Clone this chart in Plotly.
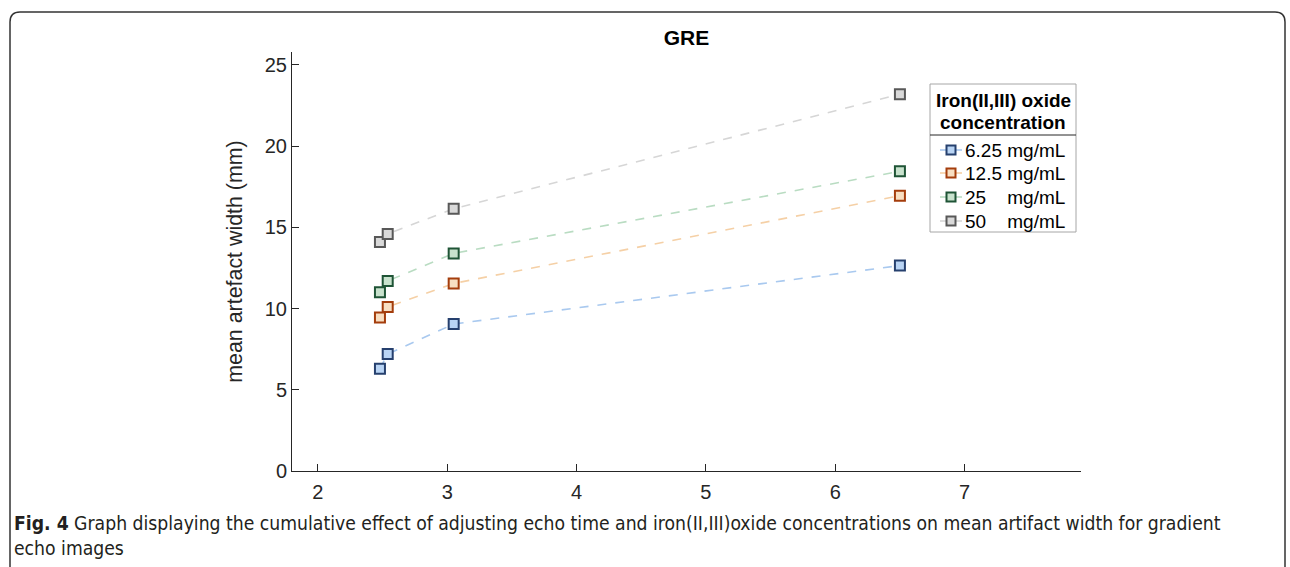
import plotly.graph_objects as go

echo_time = [2.48, 2.54, 3.05, 6.50]
series_names = ["6.25 mg/mL", "12.5 mg/mL", "25\u00a0\u00a0\u00a0\u00a0mg/mL", "50\u00a0\u00a0\u00a0\u00a0mg/mL"]
width_625 = [6.3, 7.2, 9.05, 12.65]
width_125 = [9.45, 10.1, 11.55, 16.95]
width_25 = [11.0, 11.7, 13.4, 18.45]
width_50 = [14.1, 14.6, 16.15, 23.2]
x_ticks = [2, 3, 4, 5, 6, 7]
y_ticks = [0, 5, 10, 15, 20, 25]

series_values = [width_625, width_125, width_25, width_50]
line_colors = ["#a9c9ef", "#f5d0a6", "#b9dcc2", "#d6d6d6"]
fill_colors = ["#b9d4f4", "#f8dfc2", "#c8e2cd", "#d9d9d9"]
edge_colors = ["#26406e", "#a43d0c", "#1f5436", "#585858"]

font = "Arial, 'Liberation Sans', sans-serif"
cap_font = "'Liberation Sans Narrow', 'DejaVu Sans Condensed', sans-serif"

fig = go.Figure()
for name, vals, lc, fc, ec in zip(series_names, series_values, line_colors, fill_colors, edge_colors):
    fig.add_trace(go.Scatter(
        x=echo_time, y=vals, name=name, mode="lines+markers", showlegend=False,
        line=dict(color=lc, width=1.6, dash="dash"),
        marker=dict(symbol="square", size=10, color=fc, line=dict(color=ec, width=2)),
    ))

W, H = 1290, 567
L, R, T, B = 292, 1081, 52, 471
pw, ph = R - L, B - T

def px(x):
    return (x - L) / pw

def py(y):
    return (B - y) / ph

# outer rounded frame
x0, x1, y0, y1 = px(10), px(1285), py(12), py(600)
rx, ry = 10 / pw, 10 / ph
frame = (f"M {x0},{y1} L {x0},{y0 - ry} Q {x0},{y0} {x0 + rx},{y0} "
         f"L {x1 - rx},{y0} Q {x1},{y0} {x1},{y0 - ry} L {x1},{y1}")

shapes = [
    dict(type="path", path=frame, xref="paper", yref="paper",
         line=dict(color="#333333", width=1.5)),
    # legend box and title separator
    dict(type="rect", xref="paper", yref="paper", x0=px(930), x1=px(1076), y0=py(84), y1=py(232),
         line=dict(color="#a6a6a6", width=1), fillcolor="white", layer="above"),
    dict(type="line", xref="paper", yref="paper", x0=px(930), x1=px(1076), y0=py(135), y1=py(135),
         line=dict(color="#262626", width=1), layer="above"),
]
annotations = [
    dict(text="<b>Iron(II,III) oxide</b>", x=px(1003), y=py(100), xref="paper", yref="paper",
         xanchor="center", yanchor="middle", showarrow=False, font=dict(size=19, color="#000000")),
    dict(text="<b>concentration</b>", x=px(1003), y=py(123), xref="paper", yref="paper",
         xanchor="center", yanchor="middle", showarrow=False, font=dict(size=19, color="#000000")),
]
legend_rows = [150, 173, 197, 221]
for name, lc, fc, ec, yy in zip(series_names, line_colors, fill_colors, edge_colors, legend_rows):
    shapes.append(dict(type="line", xref="paper", yref="paper", x0=px(940), x1=px(962),
                       y0=py(yy), y1=py(yy), line=dict(color=lc, width=1.6), layer="above"))
    shapes.append(dict(type="rect", xref="paper", yref="paper",
                       xsizemode="pixel", ysizemode="pixel", xanchor=px(951), yanchor=py(yy),
                       x0=-4.5, x1=4.5, y0=-4.5, y1=4.5,
                       fillcolor=fc, line=dict(color=ec, width=2), layer="above"))
    annotations.append(dict(text=name, x=px(963), y=py(yy), xref="paper", yref="paper",
                            xanchor="left", yanchor="middle", showarrow=False,
                            font=dict(size=19, color="#000000")))

annotations.append(dict(
    text="<b>Fig. 4</b> Graph displaying the cumulative effect of adjusting echo time and iron(II,III)oxide concentrations on mean artifact width for gradient<br>echo images",
    x=px(12), y=py(510), xref="paper", yref="paper", xanchor="left", yanchor="top",
    align="left", showarrow=False,
    font=dict(family=cap_font, size=19.2, color="#231f20")))

fig.update_layout(
    width=W, height=H,
    margin=dict(l=L, r=W - R, t=T, b=H - B),
    paper_bgcolor="white", plot_bgcolor="white",
    font=dict(family=font, color="#262626", size=20),
    showlegend=False,
    title=dict(text="<b>GRE</b>", xref="paper", x=0.5, xanchor="center",
               yref="container", y=1 - 38 / H, yanchor="middle",
               font=dict(size=21, color="#000000", family=font)),
    xaxis=dict(range=[1.8, 7.9], tickvals=x_ticks, ticks="inside", ticklen=7,
               tickcolor="#262626", showline=True, linecolor="#262626", linewidth=1,
               showgrid=False, zeroline=False, tickfont=dict(size=20), ticklabelstandoff=3),
    yaxis=dict(range=[0, 25.8], tickvals=y_ticks, ticks="inside", ticklen=7,
               tickcolor="#262626", showline=True, linecolor="#262626", linewidth=1,
               showgrid=False, zeroline=False, tickfont=dict(size=20),
               title=dict(text="mean artefact width (mm)", font=dict(size=21.4), standoff=16)),
    shapes=shapes,
    annotations=annotations,
)

fig.write_html("out.html", config={"displayModeBar": False},
               post_script="document.body.style.margin='0';document.body.style.padding='0';")
